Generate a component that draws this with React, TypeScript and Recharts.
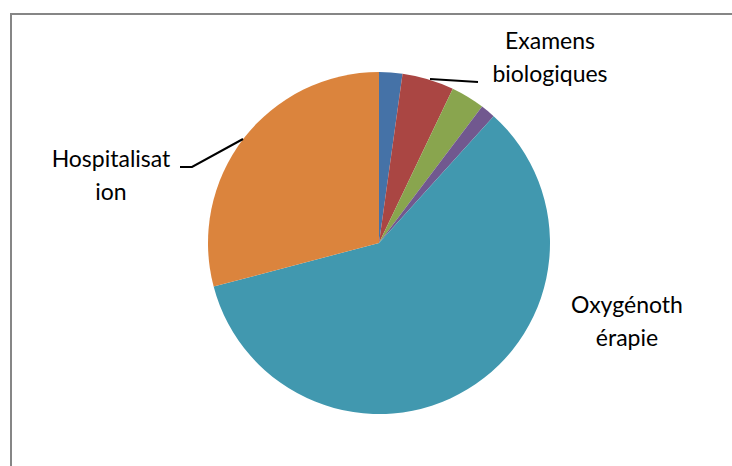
import { PieChart, Pie, Cell } from "recharts";

const CATEGORIES = [
  "Consultations",
  "Examens biologiques",
  "Imagerie",
  "Kinésithérapie",
  "Oxygénothérapie",
  "Hospitalisation",
];
const VALUES = [2.2, 4.9, 3.2, 1.4, 59.2, 29.1];
const COLORS = ["#4572A7", "#AA4643", "#89A54E", "#71588F", "#4198AF", "#DB843D"];

// label lines as shown (Excel wraps the long words)
const LABEL_LINES: Record<string, string[]> = {
  "Examens biologiques": ["Examens", "biologiques"],
  "Oxygénothérapie": ["Oxygénoth", "érapie"],
  "Hospitalisation": ["Hospitalisat", "ion"],
};

const data = CATEGORIES.map((name, i) => ({ name, value: VALUES[i] }));

const FONT = "Lato, 'Open Sans', sans-serif";
const FS = 23;
const LH = 33;

// label placement relative to the pie centre: text centre/baseline + leader line
const LABEL_POS: Record<string, { tx: number; ty: number; line?: number[][] }> = {
  "Examens biologiques": { tx: 171, ty: -194, line: [[51, -164], [99, -161]] },
  "Hospitalisation": { tx: -268, ty: -76, line: [[-136, -104], [-187, -76], [-199, -76]] },
  "Oxygénothérapie": { tx: 248, ty: 70 },
};

function renderLabel(props: any) {
  const { cx, cy, name } = props;
  const lines = LABEL_LINES[name];
  const pos = LABEL_POS[name];
  if (!lines || !pos) return null;
  const x = cx + pos.tx;
  const y = cy + pos.ty;
  return (
    <g>
      {pos.line && (
        <polyline
          points={pos.line.map(([a, b]) => `${cx + a},${cy + b}`).join(" ")}
          stroke="#000"
          strokeWidth={2}
          fill="none"
        />
      )}
      <text x={x} y={y} textAnchor="middle" fontSize={FS} fill="#000" fontFamily={FONT}>
        {lines.map((l, i) => (
          <tspan key={i} x={x} dy={i === 0 ? 0 : LH}>
            {l}
          </tspan>
        ))}
      </text>
    </g>
  );
}

export default function App() {
  return (
    <div style={{ position: "absolute", left: 0, top: 0, width: 732, height: 466, background: "#fff" }}>
      <svg width={732} height={466} style={{ position: "absolute", left: 0, top: 0 }}>
        <path d="M11,466 L11,14 L732,14" stroke="#868686" strokeWidth={2} fill="none" />
      </svg>
      <div style={{ position: "absolute", left: 0, top: 0 }}>
        <PieChart width={732} height={466} margin={{ top: 0, right: 0, bottom: 0, left: 0 }}>
          <Pie
            data={data}
            dataKey="value"
            nameKey="name"
            cx={379}
            cy={243}
            outerRadius={171}
            startAngle={90}
            endAngle={-270}
            stroke="none"
            label={renderLabel}
            labelLine={false}
            isAnimationActive={false}
          >
            {data.map((d, i) => (
              <Cell key={d.name} fill={COLORS[i]} />
            ))}
          </Pie>
        </PieChart>
      </div>
    </div>
  );
}
